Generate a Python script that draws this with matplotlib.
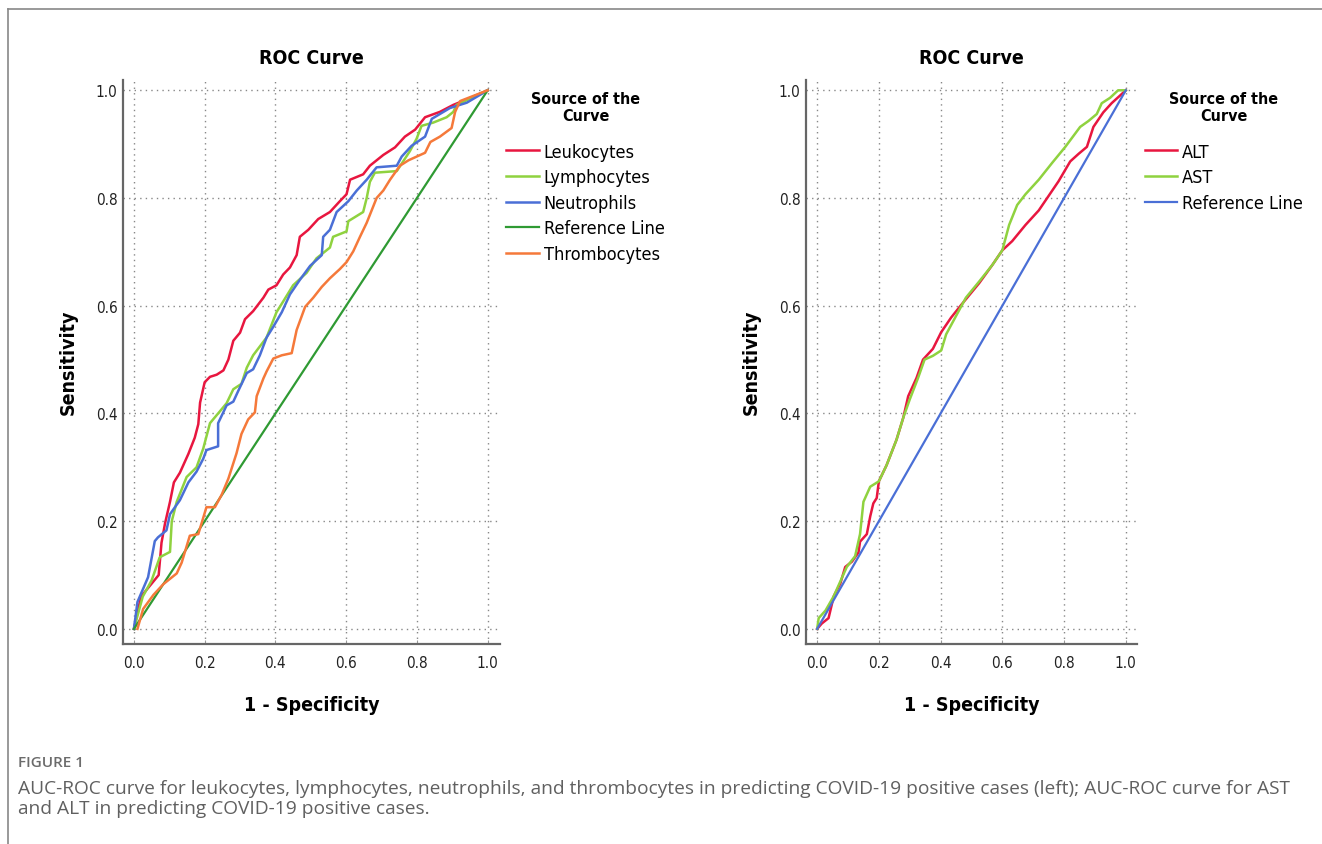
import matplotlib.pyplot as plt
from matplotlib.lines import Line2D

plt.rcParams['font.family'] = ['DejaVu Sans Condensed', 'DejaVu Sans']
plt.rcParams['font.stretch'] = 'condensed'

# left chart: ROC points (1 - specificity, sensitivity)
leuko_x = [0, 0.02, 0.07, 0.078, 0.088, 0.102, 0.113, 0.13, 0.154, 0.172, 0.182, 0.187, 0.2, 0.215, 0.234,
           0.253, 0.267, 0.281, 0.30, 0.314, 0.337, 0.366, 0.38, 0.403, 0.422, 0.441, 0.46, 0.469, 0.493,
           0.521, 0.554, 0.582, 0.601, 0.611, 0.648, 0.667, 0.705, 0.738, 0.766, 0.795, 0.823, 0.865,
           0.903, 0.941, 1.0]
leuko_y = [0, 0.06, 0.10, 0.16, 0.196, 0.236, 0.272, 0.29, 0.325, 0.355, 0.38, 0.42, 0.458, 0.468, 0.472,
           0.48, 0.50, 0.535, 0.55, 0.575, 0.59, 0.615, 0.63, 0.638, 0.658, 0.671, 0.694, 0.728, 0.741,
           0.761, 0.774, 0.794, 0.807, 0.834, 0.844, 0.86, 0.88, 0.894, 0.914, 0.927, 0.95, 0.96,
           0.973, 0.983, 1.0]

lympho_x = [0, 0.025, 0.05, 0.073, 0.102, 0.107, 0.121, 0.149, 0.177, 0.196, 0.215, 0.238, 0.262, 0.281,
            0.304, 0.319, 0.337, 0.375, 0.403, 0.422, 0.45, 0.488, 0.516, 0.554, 0.563, 0.601, 0.606,
            0.648, 0.658, 0.667, 0.681, 0.743, 0.757, 0.78, 0.799, 0.813, 0.846, 0.884, 0.903, 0.912, 1.0]
lympho_y = [0, 0.06, 0.09, 0.133, 0.143, 0.2, 0.236, 0.282, 0.30, 0.335, 0.382, 0.40, 0.419, 0.445,
            0.455, 0.485, 0.508, 0.541, 0.588, 0.608, 0.638, 0.661, 0.688, 0.708, 0.728, 0.738, 0.757,
            0.774, 0.80, 0.83, 0.847, 0.85, 0.864, 0.887, 0.91, 0.934, 0.94, 0.95, 0.96, 0.973, 1.0]

neutro_x = [0, 0.01, 0.04, 0.059, 0.068, 0.092, 0.102, 0.13, 0.154, 0.177, 0.196, 0.205, 0.238, 0.238,
            0.262, 0.281, 0.295, 0.319, 0.337, 0.356, 0.375, 0.394, 0.418, 0.441, 0.469, 0.498, 0.531,
            0.535, 0.554, 0.573, 0.606, 0.63, 0.658, 0.686, 0.743, 0.757, 0.785, 0.823, 0.842, 0.893,
            0.941, 1.0]
neutro_y = [0, 0.05, 0.096, 0.163, 0.17, 0.183, 0.213, 0.239, 0.272, 0.292, 0.316, 0.332, 0.339, 0.382,
            0.415, 0.422, 0.442, 0.475, 0.482, 0.508, 0.541, 0.561, 0.588, 0.621, 0.648, 0.674, 0.694,
            0.728, 0.741, 0.774, 0.794, 0.814, 0.834, 0.857, 0.86, 0.877, 0.897, 0.914, 0.947, 0.967,
            0.977, 1.0]

thrombo_x = [0.01, 0.026, 0.055, 0.083, 0.121, 0.135, 0.158, 0.182, 0.205, 0.229, 0.248, 0.267, 0.29,
             0.304, 0.323, 0.342, 0.347, 0.366, 0.375, 0.394, 0.418, 0.446, 0.46, 0.484, 0.507, 0.531,
             0.554, 0.582, 0.601, 0.62, 0.639, 0.658, 0.686, 0.705, 0.724, 0.752, 0.776, 0.823, 0.838,
             0.865, 0.898, 0.908, 0.922, 1.0]
thrombo_y = [0, 0.037, 0.063, 0.083, 0.103, 0.123, 0.173, 0.176, 0.226, 0.226, 0.249, 0.279, 0.326,
             0.362, 0.389, 0.402, 0.432, 0.465, 0.478, 0.502, 0.508, 0.512, 0.555, 0.598, 0.615, 0.635,
             0.651, 0.668, 0.681, 0.701, 0.728, 0.754, 0.80, 0.814, 0.834, 0.86, 0.87, 0.884, 0.904,
             0.914, 0.93, 0.96, 0.98, 1.0]

# right chart
alt_x = [0, 0.015, 0.037, 0.054, 0.075, 0.091, 0.113, 0.134, 0.139, 0.161, 0.172, 0.182, 0.193, 0.2,
         0.225, 0.257, 0.279, 0.295, 0.322, 0.343, 0.375, 0.402, 0.434, 0.466, 0.525, 0.568, 0.60, 0.632,
         0.675, 0.718, 0.75, 0.782, 0.82, 0.847, 0.874, 0.895, 0.927, 0.954, 1.0]
alt_y = [0, 0.01, 0.02, 0.061, 0.084, 0.115, 0.125, 0.142, 0.162, 0.176, 0.209, 0.233, 0.243, 0.274,
         0.304, 0.351, 0.392, 0.432, 0.466, 0.50, 0.52, 0.551, 0.578, 0.601, 0.642, 0.676, 0.703, 0.72,
         0.75, 0.777, 0.804, 0.831, 0.868, 0.882, 0.895, 0.932, 0.959, 0.976, 1.0]

ast_x = [0, 0.005, 0.027, 0.054, 0.075, 0.096, 0.123, 0.139, 0.15, 0.172, 0.2, 0.225, 0.257, 0.279, 0.3,
         0.327, 0.348, 0.375, 0.402, 0.418, 0.45, 0.482, 0.525, 0.568, 0.60, 0.622, 0.648, 0.675, 0.718,
         0.761, 0.804, 0.852, 0.879, 0.906, 0.922, 0.949, 0.975, 1.0]
ast_y = [0, 0.02, 0.034, 0.061, 0.088, 0.115, 0.135, 0.176, 0.236, 0.264, 0.274, 0.304, 0.351, 0.392,
         0.426, 0.466, 0.50, 0.507, 0.517, 0.547, 0.581, 0.615, 0.645, 0.676, 0.703, 0.75, 0.787, 0.807,
         0.834, 0.865, 0.895, 0.932, 0.943, 0.956, 0.976, 0.986, 1.0, 1.0]

ref_x = [0, 1]
ref_y = [0, 1]

ticks = [0.0, 0.2, 0.4, 0.6, 0.8, 1.0]
tick_labels = ['0.0', '0.2', '0.4', '0.6', '0.8', '1.0']

RED = '#e8163f'
LGREEN = '#8fd23f'
BLUE = '#4a6fd6'
DGREEN = '#2f9a33'
ORANGE = '#f5793a'


def style_axes(ax, xlim):
    ax.set_xlim(xlim)
    ax.set_ylim(-0.028, 1.02)
    ax.set_xticks(ticks)
    ax.set_xticklabels(tick_labels)
    ax.set_yticks(ticks)
    ax.set_yticklabels(tick_labels)
    ax.tick_params(axis='both', labelsize=11, colors='#222222', length=0, pad=4)
    ax.tick_params(axis='x', length=3, direction='in', color='#999999', pad=8)
    for s in ['top', 'right']:
        ax.spines[s].set_visible(False)
    for s in ['left', 'bottom']:
        ax.spines[s].set_color('#666666')
        ax.spines[s].set_linewidth(1.6)
    ax.grid(True, linestyle=(0, (1, 3)), color='#888888', linewidth=1.0)
    ax.set_axisbelow(True)
    ax.set_title('ROC Curve', fontsize=14, fontweight='bold', pad=12)
    ax.set_xlabel('1 - Specificity', fontsize=14, fontweight='bold', labelpad=18)
    ax.set_ylabel('Sensitivity', fontsize=14, fontweight='bold', labelpad=13)


fig = plt.figure(figsize=(13.22, 8.45), dpi=100)

ax1 = fig.add_axes([0.093, 0.2367, 0.285, 0.668])
ax1.plot(leuko_x, leuko_y, color=RED, lw=1.8, label='Leukocytes')
ax1.plot(lympho_x, lympho_y, color=LGREEN, lw=1.8, label='Lymphocytes')
ax1.plot(neutro_x, neutro_y, color=BLUE, lw=1.8, label='Neutrophils')
ax1.plot(ref_x, ref_y, color=DGREEN, lw=1.6, label='Reference Line')
ax1.plot(thrombo_x, thrombo_y, color=ORANGE, lw=1.8, label='Thrombocytes')
style_axes(ax1, (-0.031, 1.034))

ax2 = fig.add_axes([0.6097, 0.2367, 0.2503, 0.668])
ax2.plot(alt_x, alt_y, color=RED, lw=1.8, label='ALT')
ax2.plot(ast_x, ast_y, color=LGREEN, lw=1.8, label='AST')
ax2.plot(ref_x, ref_y, color=BLUE, lw=1.6, label='Reference Line')
style_axes(ax2, (-0.036, 1.036))

for ax, xa in [(ax1, 1.018), (ax2, 1.024)]:
    leg = ax.legend(loc='upper left', bbox_to_anchor=(xa, 0.98), frameon=False,
                    title='Source of the\nCurve', fontsize=13, handlelength=1.8,
                    handletextpad=0.25, labelspacing=0.42, borderpad=0, borderaxespad=0,
                    title_fontproperties={'weight': 'bold', 'size': 11.5})
    leg.get_title().set_multialignment('center')
    leg._legend_box.sep = 14

# caption box lines
fig.add_artist(Line2D([8 / 1322, 1.0], [1 - 10 / 845, 1 - 10 / 845], color='#888888', lw=1.2))
fig.add_artist(Line2D([8 / 1322, 8 / 1322], [0, 1 - 10 / 845], color='#888888', lw=1.2))

fig.text(18 / 1322, 1 - 763 / 845, 'FIGURE 1', fontsize=11, color='#6b6b6b', fontweight='semibold',
         family=['Open Sans', 'DejaVu Sans'], fontstretch='normal', va='center', ha='left')
fig.text(18 / 1322, 1 - 799 / 845,
         'AUC-ROC curve for leukocytes, lymphocytes, neutrophils, and thrombocytes in predicting '
         'COVID-19 positive cases (left); AUC-ROC curve for AST\nand ALT in predicting COVID-19 '
         'positive cases.',
         fontsize=13.8, color='#606060', family=['Open Sans', 'DejaVu Sans'], fontstretch='normal',
         va='center', ha='left', linespacing=1.2)

fig.savefig('out.png', dpi=100)
